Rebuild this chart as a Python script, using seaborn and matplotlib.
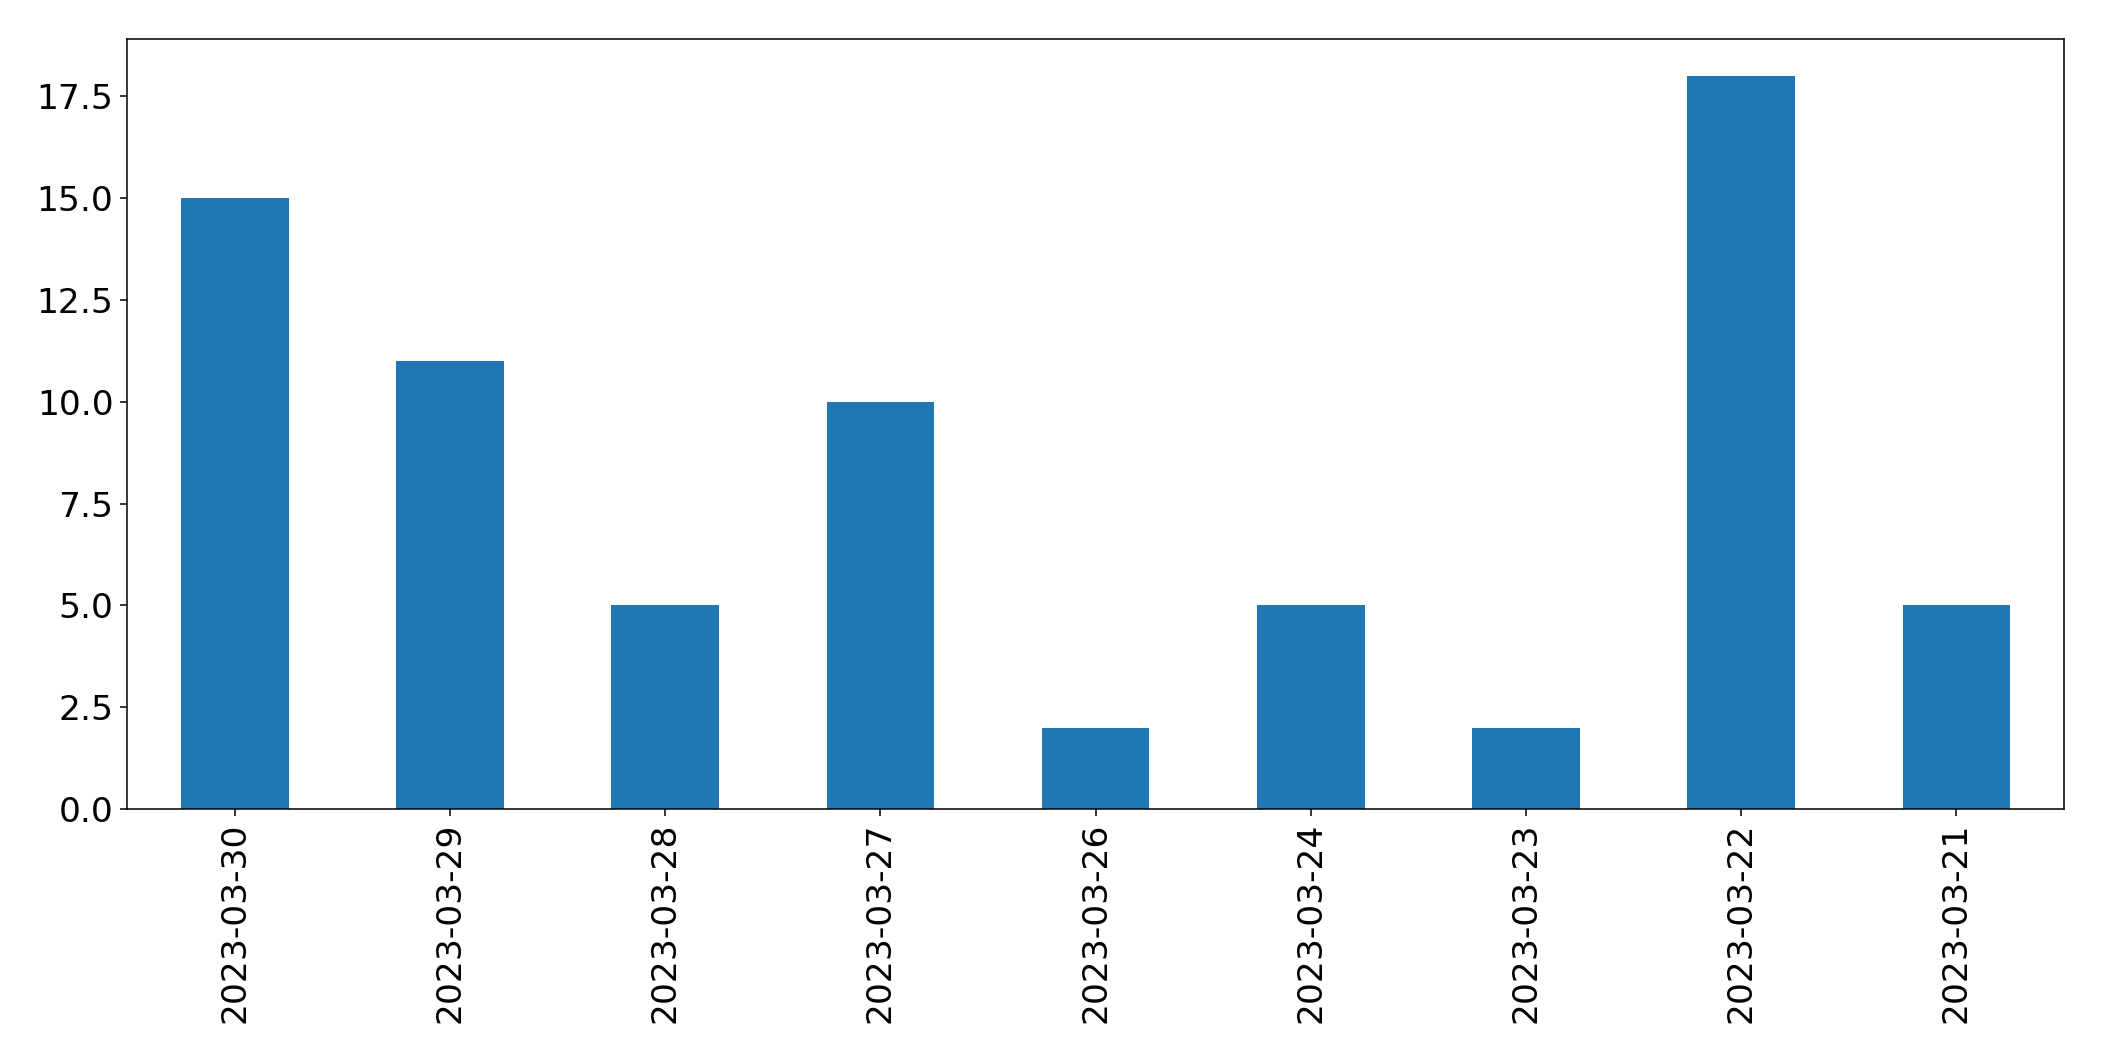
import seaborn as sns
import matplotlib.pyplot as plt
import pandas as pd

dates = ['2023-03-30', '2023-03-29', '2023-03-28', '2023-03-27', '2023-03-26',
         '2023-03-24', '2023-03-23', '2023-03-22', '2023-03-21']
counts = [15, 11, 5, 10, 2, 5, 2, 18, 5]

df = pd.DataFrame({'date': dates, 'count': counts})

fig = plt.figure(figsize=(21.04, 10.61), dpi=100)
ax = fig.add_axes([0.0605, 0.2375, 0.9205, 0.7255])

sns.barplot(data=df, x='date', y='count', order=dates, color='#1f77b4',
            saturation=1, width=0.5, linewidth=0, ax=ax)

ax.set_xlim(-0.5, len(dates) - 0.5)
ax.set_ylim(0, max(counts) * 1.05)
ax.set_yticks([0, 2.5, 5, 7.5, 10, 12.5, 15, 17.5])
ax.set_yticklabels(['0.0', '2.5', '5.0', '7.5', '10.0', '12.5', '15.0', '17.5'])
ax.set_xlabel('')
ax.set_ylabel('')
ax.tick_params(axis='both', labelsize=24.8, length=5, width=1.1, pad=5)
ax.tick_params(axis='x', labelrotation=90)
for s in ax.spines.values():
    s.set_linewidth(1.1)

fig.savefig('out.png', dpi=100)
